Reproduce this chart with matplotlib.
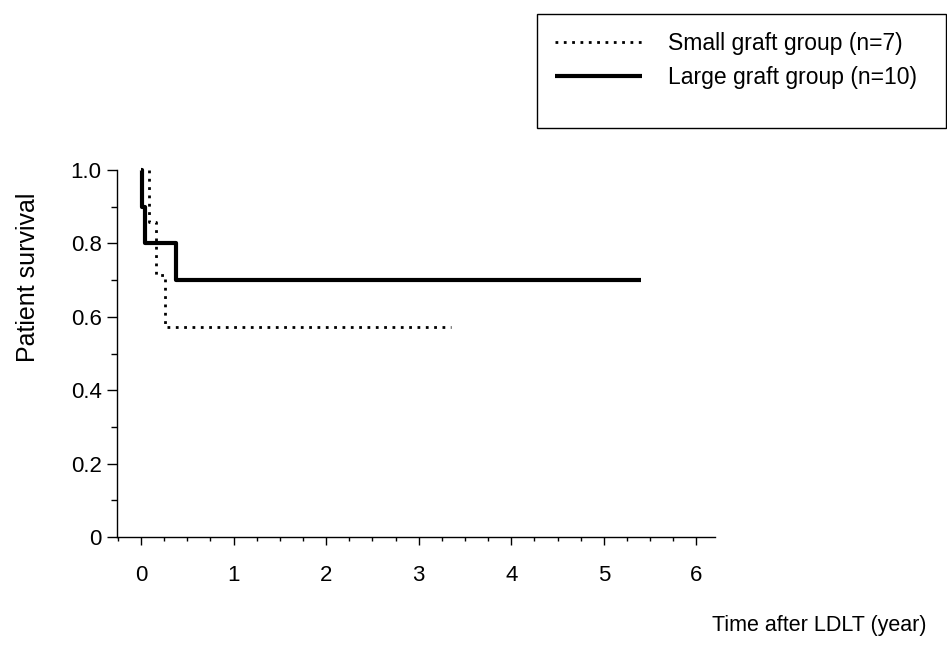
import matplotlib
matplotlib.use("Agg")
import matplotlib.pyplot as plt
from matplotlib.ticker import MultipleLocator, FixedLocator
from matplotlib.patches import Rectangle

plt.rcParams['font.family'] = ['Liberation Sans', 'DejaVu Sans']

# Kaplan-Meier step data (time in years, survival)
small_times = [0.09, 0.09, 0.16, 0.26, 3.35]
small_surv = [1.0, 0.857, 0.714, 0.571, 0.571]
large_times = [0.0, 0.015, 0.04, 0.38, 5.4]
large_surv = [1.0, 0.9, 0.8, 0.7, 0.7]

labels = ["Small graft group (n=7)", "Large graft group (n=10)"]
xticks = [0, 1, 2, 3, 4, 5, 6]
yticks = [0, 0.2, 0.4, 0.6, 0.8, 1.0]
yticklabels = ["0", "0.2", "0.4", "0.6", "0.8", "1.0"]

W, H = 947, 655
fig = plt.figure(figsize=(W / 100, H / 100), dpi=100)
ax = fig.add_axes([117 / W, 1 - 537 / H, (715 - 117) / W, (537 - 170) / H])

l1, = ax.plot(small_times, small_surv, drawstyle='steps-post', color='black',
              lw=2.0, linestyle=(0, (1, 2)), clip_on=False)
l2, = ax.plot(large_times, large_surv, drawstyle='steps-post', color='black',
              lw=3.0, clip_on=False, solid_capstyle='butt')

ax.set_xlim(-0.26, 6.2)
ax.set_ylim(0, 1.0)
ax.spines['top'].set_visible(False)
ax.spines['right'].set_visible(False)
for s in ('left', 'bottom'):
    ax.spines[s].set_linewidth(1.0)

ax.xaxis.set_major_locator(FixedLocator(xticks))
ax.xaxis.set_minor_locator(MultipleLocator(0.25))
ax.yaxis.set_major_locator(FixedLocator(yticks))
ax.set_yticklabels(yticklabels)
ax.yaxis.set_minor_locator(MultipleLocator(0.1))
ax.tick_params(axis='x', which='major', direction='out', length=6, width=1.0,
               labelsize=16, pad=14)
ax.tick_params(axis='x', which='minor', direction='out', length=3, width=1.0)
ax.tick_params(axis='y', which='major', direction='out', length=7, width=1.0,
               labelsize=16, pad=4)
ax.tick_params(axis='y', which='minor', direction='out', length=4, width=1.0)

fig.text(28 / W, 1 - 277 / H, "Patient survival", rotation=90, fontsize=18,
         ha='center', va='center')
fig.text(712 / W, 1 - 626 / H, "Time after LDLT (year)", fontsize=15.5,
         ha='left', va='center')

# legend box
fig.patches.append(Rectangle((537 / W, 1 - 128 / H), (946 - 537) / W, (128 - 14) / H,
                             transform=fig.transFigure, fill=False,
                             edgecolor='black', linewidth=1.0))
leg = fig.legend([l1, l2], labels, loc='upper left',
                 bbox_to_anchor=(555 / W, 1 - 32 / H), fontsize=16.5,
                 frameon=False, handlelength=3.8, handletextpad=1.15,
                 labelspacing=0.5, borderpad=0, borderaxespad=0)

fig.savefig("out.png", dpi=100)
